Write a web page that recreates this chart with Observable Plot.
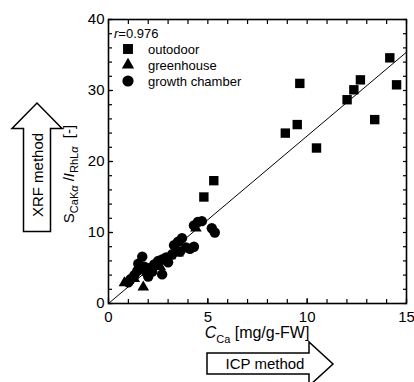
<!DOCTYPE html>
<html><head><meta charset="utf-8">
<script src="https://cdn.jsdelivr.net/npm/d3@7"></script>
<script src="https://cdn.jsdelivr.net/npm/@observablehq/plot@0.6"></script>
<style>
body{margin:0;background:#fff;}
#chart{width:414px;height:382px;overflow:hidden;}
</style></head><body><div id="chart"></div>
<script>
// ---- data ----
const outdoorX = [14.16, 9.63, 12.68, 12.35, 12.01, 14.5, 9.5, 8.9, 13.4, 10.47, 5.3, 4.8];
const outdoorY = [34.6, 31.0, 31.5, 30.1, 28.7, 30.8, 25.2, 24.0, 25.9, 21.9, 17.3, 15.0];
const greenhouseX = [0.8, 1.0, 1.75, 1.3, 2.2, 3.1, 3.5, 4.4, 2.6];
const greenhouseY = [2.9, 3.2, 2.3, 3.5, 4.6, 6.7, 7.1, 10.6, 5.2];
const chamberX = [1.0, 1.1, 1.3, 1.45, 1.5, 1.7, 1.8, 1.9, 2.0, 2.1, 2.2, 2.3, 2.5, 2.7, 2.7, 2.9, 3.0, 3.2, 3.3, 3.5, 3.6, 3.7, 3.9, 4.1, 4.3, 4.3, 4.5, 4.7, 5.2, 5.35];
const chamberY = [3.0, 3.4, 4.0, 4.6, 5.6, 6.6, 5.2, 4.4, 3.8, 5.0, 4.5, 5.5, 6.0, 4.1, 6.2, 6.5, 5.8, 6.9, 8.2, 8.7, 7.3, 9.2, 7.9, 7.7, 8.0, 11.0, 11.5, 11.6, 10.6, 10.0];
const fitX = [0, 15];
const fitY = [0, 35.4];
const xMajor = [0, 5, 10, 15];
const xMinor = d3.range(0, 16, 1);
const yMajor = [0, 10, 20, 30, 40];
const yMinor = d3.range(0, 41, 2);
const legendLabels = ["outodoor", "greenhouse", "growth chamber"];
const rText = "0.976";

const toPts = (xs, ys) => xs.map((x, i) => ({x, y: ys[i]}));
const outdoor = toPts(outdoorX, outdoorY);
const greenhouse = toPts(greenhouseX, greenhouseY);
const chamber = toPts(chamberX, chamberY);
const fit = toPts(fitX, fitY);

const FONT = "'Liberation Sans', Arial, Helvetica, sans-serif";
const W = 414, H = 382, mL = 108, mR = 8, mT = 19, mB = 79;

const plot = Plot.plot({
  width: W, height: H,
  marginLeft: mL, marginRight: mR, marginTop: mT, marginBottom: mB,
  style: {fontFamily: FONT, fontSize: "14px", color: "black", background: "white"},
  x: {domain: [0, 15]},
  y: {domain: [0, 40]},
  marks: [
    Plot.line(fit, {x: "x", y: "y", stroke: "black", strokeWidth: 1}),
    Plot.dot(chamber, {x: "x", y: "y", symbol: "circle", r: 5.2, fill: "black"}),
    Plot.dot(greenhouse, {x: "x", y: "y", symbol: "triangle", r: 4.3, fill: "black"}),
    Plot.dot(outdoor, {x: "x", y: "y", symbol: "square", r: 5.3, fill: "black"}),
    Plot.axisX({ticks: xMinor, tickSize: -4, tickFormat: () => "", label: null, strokeWidth: 1.2}),
    Plot.axisX({anchor: "top", ticks: xMinor, tickSize: -4, tickFormat: () => "", label: null, strokeWidth: 1.2}),
    Plot.axisX({ticks: xMajor, tickSize: -5, tickPadding: 13, fontSize: 15, label: null, strokeWidth: 1.2}),
    Plot.axisY({ticks: yMinor, tickSize: -4, tickFormat: () => "", label: null, strokeWidth: 1.2}),
    Plot.axisY({anchor: "right", ticks: yMinor, tickSize: -4, tickFormat: () => "", label: null, strokeWidth: 1.2}),
    Plot.axisY({ticks: yMajor, tickSize: -5, tickPadding: 9, fontSize: 15, label: null, strokeWidth: 1.2}),
    Plot.frame({stroke: "black", strokeWidth: 1.6})
  ]
});

const svg = d3.select(plot);
const g = svg.append("g").attr("font-family", FONT).attr("fill", "black").attr("text-anchor", "start");

// r value
const rt = g.append("text").attr("x", 114).attr("y", 38).attr("font-size", 13);
rt.append("tspan").attr("font-style", "italic").text("r");
rt.append("tspan").text("=" + rText);

// legend
const legSym = [d3.symbolSquare, d3.symbolTriangle, d3.symbolCircle];
const legR = [5.6, 4.6, 5.6];
legendLabels.forEach((lab, i) => {
  const cy = 49 + i * 16;
  g.append("path")
    .attr("transform", `translate(128,${cy})`)
    .attr("d", d3.symbol(legSym[i], legR[i] * legR[i] * Math.PI)());
  g.append("text").attr("x", 148).attr("y", cy + 4.7).attr("font-size", 13).text(lab);
});

// y-axis title
const yl = g.append("text").attr("transform", "translate(74,174) rotate(-90)")
  .attr("text-anchor", "middle").attr("font-size", 15);
yl.append("tspan").text("S");
yl.append("tspan").attr("font-size", 11).attr("dy", 4).text("CaK");
yl.append("tspan").attr("font-size", 11).attr("font-style", "italic").text("α");
yl.append("tspan").attr("dy", -4).text(" /");
yl.append("tspan").attr("font-style", "italic").text("I");
yl.append("tspan").attr("font-size", 11).attr("dy", 4).text("RhL");
yl.append("tspan").attr("font-size", 11).attr("font-style", "italic").text("α");
yl.append("tspan").attr("dy", -4).text("  [-]");

// x-axis title
const xl = g.append("text").attr("x", 257).attr("y", 338)
  .attr("text-anchor", "middle").attr("font-size", 16);
xl.append("tspan").attr("font-style", "italic").text("C");
xl.append("tspan").attr("font-size", 11).attr("dy", 5).text("Ca");
xl.append("tspan").attr("dy", -5).text(" [mg/g-FW]");

// XRF arrow (up)
g.append("path")
  .attr("d", "M23.5,231.5 L23.5,128.5 L12,128.5 L37,103 L62,128.5 L50.5,128.5 L50.5,231.5 Z")
  .attr("fill", "white").attr("stroke", "black").attr("stroke-width", 1.5);
g.append("text").attr("transform", "translate(42.5,175) rotate(-90)")
  .attr("text-anchor", "middle").attr("font-size", 15).text("XRF method");

// ICP arrow (right)
g.append("path")
  .attr("d", "M207,353 L309,353 L309,342 L333,364 L309,386 L309,374 L207,374 Z")
  .attr("fill", "white").attr("stroke", "black").attr("stroke-width", 1.5);
g.append("text").attr("x", 265).attr("y", 368.5)
  .attr("text-anchor", "middle").attr("font-size", 15).text("ICP method");

document.getElementById("chart").append(plot);
</script>
</body></html>
